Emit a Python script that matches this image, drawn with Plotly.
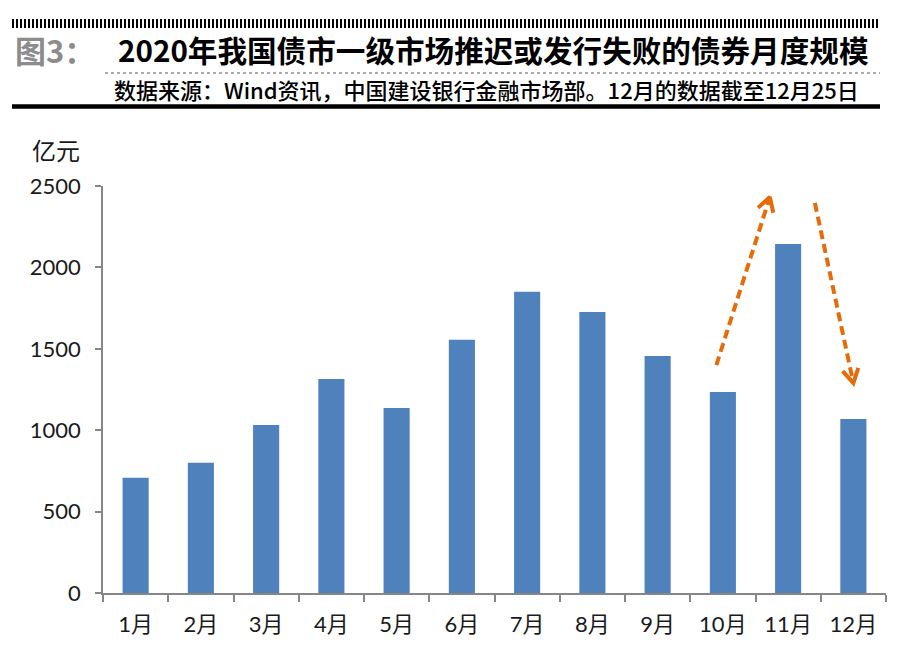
import math
import plotly.graph_objects as go

months = ["1月", "2月", "3月", "4月", "5月", "6月", "7月", "8月", "9月", "10月", "11月", "12月"]
values = [708, 800, 1032, 1315, 1136, 1555, 1850, 1726, 1456, 1235, 2144, 1069]
y_ticks = [0, 500, 1000, 1500, 2000, 2500]

# arrow paths in (category index, value) space: start -> tip
arrow_up_x = [8.90, 9.72]
arrow_up_y = [1400, 2432]
arrow_down_x = [10.41, 11.0]
arrow_down_y = [2396, 1290]

OFF = 8  # page body margin
W, H = 900 - OFF, 654 - OFF
L, R, T, B = 103 - OFF, 22 - OFF, 186 - OFF, 61
PW, PH = W - L - R, H - T - B
YMAX = 2500
NCAT = len(months)


def px(x):
    return (x - OFF - L) / PW


def py(y):
    return (H - B - (y - OFF)) / PH


# data <-> pixel helpers (plot-area pixels) for arrowhead geometry
def d2p(xi, v):
    return (xi + 0.5) * PW / NCAT, v * PH / YMAX


def p2d(X, Y):
    return X * NCAT / PW - 0.5, Y * YMAX / PH


BAR = "#4F81BD"
ORANGE = "#E46C0A"
AXIS = "#868686"
FONT_NUM = "Lato, Noto Sans CJK SC, sans-serif"
FONT_CJK = "Noto Sans CJK SC, sans-serif"

fig = go.Figure()
fig.add_trace(go.Bar(x=months, y=values, marker=dict(color=BAR, line=dict(width=0)),
                     width=0.4, showlegend=False, hoverinfo="x+y"))

for xs, ys in [(arrow_up_x, arrow_up_y), (arrow_down_x, arrow_down_y)]:
    fig.add_trace(go.Scatter(
        x=xs, y=ys, xaxis="x2", yaxis="y", mode="lines",
        line=dict(color=ORANGE, width=4, dash="9px,5px"),
        showlegend=False, hoverinfo="skip", cliponaxis=False))
    # chevron head
    x0, y0 = d2p(xs[0], ys[0])
    x1, y1 = d2p(xs[1], ys[1])
    ang = math.atan2(y1 - y0, x1 - x0)
    hl, ha = 16, math.radians(30)
    pts = []
    for s in (1, -1):
        a = ang + math.pi + s * ha
        pts.append((x1 + hl * math.cos(a), y1 + hl * math.sin(a)))
    hx, hy = [], []
    for P in (pts[0], (x1, y1), pts[1]):
        dx, dy = p2d(*P)
        hx.append(dx)
        hy.append(dy)
    fig.add_trace(go.Scatter(
        x=hx, y=hy, xaxis="x2", yaxis="y", mode="lines",
        line=dict(color=ORANGE, width=4), showlegend=False, hoverinfo="skip", cliponaxis=False))

fig.update_layout(
    width=W, height=H,
    margin=dict(l=L, r=R, t=T, b=B, pad=0),
    paper_bgcolor="white", plot_bgcolor="white",
    bargap=0.6,
    font=dict(family=FONT_NUM, size=22, color="#1a1a1a"),
    xaxis=dict(type="category", showgrid=False, showline=True, linecolor=AXIS, linewidth=1.5,
               ticks="outside", ticklen=7, tickcolor=AXIS, tickwidth=1.5, tickson="boundaries",
               tickfont=dict(family=FONT_NUM, size=22, color="#1a1a1a"), ticklabelstandoff=11,
               zeroline=False),
    xaxis2=dict(overlaying="x", range=[-0.5, 11.5], visible=False, showgrid=False, zeroline=False),
    yaxis=dict(range=[0, YMAX], tickvals=y_ticks, showgrid=False, showline=True, linecolor=AXIS,
               linewidth=1.5, ticks="outside", ticklen=6, tickcolor=AXIS, tickwidth=1.5,
               tickfont=dict(family=FONT_NUM, size=22, color="#1a1a1a"), ticklabelstandoff=10,
               zeroline=False),
)

shapes = [
    # hatched top band
    dict(type="line", xref="paper", yref="paper", x0=px(12), x1=px(880), y0=py(23.5), y1=py(23.5),
         line=dict(color="#000000", width=9, dash="2px,2px")),
    # dotted line under title
    dict(type="line", xref="paper", yref="paper", x0=px(105), x1=px(880), y0=py(73), y1=py(73),
         line=dict(color="#555555", width=1, dash="dot")),
    # thick rule under source
    dict(type="line", xref="paper", yref="paper", x0=px(12), x1=px(880), y0=py(106.5), y1=py(106.5),
         line=dict(color="#000000", width=4.5)),
]
fig.update_layout(shapes=shapes)

annotations = [
    dict(text="<b>图3：</b>", x=px(13), y=py(50), xref="paper", yref="paper", xanchor="left",
         yanchor="middle", showarrow=False, font=dict(family=FONT_CJK, size=31, color="#8C8C8C")),
    dict(text="<b>2020年我国债市一级市场推迟或发行失败的债券月度规模</b>", x=px(116), y=py(50),
         xref="paper", yref="paper", xanchor="left", yanchor="middle", showarrow=False,
         font=dict(family=FONT_CJK, size=29.6, color="#000000")),
    dict(text="数据来源：Wind资讯，中国建设银行金融市场部。12月的数据截至12月25日", x=px(112), y=py(89),
         xref="paper", yref="paper", xanchor="left", yanchor="middle", showarrow=False,
         font=dict(family=FONT_CJK, size=22, color="#000000", weight=500)),
    dict(text="亿元", x=px(30), y=py(150), xref="paper", yref="paper", xanchor="left",
         yanchor="middle", showarrow=False, font=dict(family=FONT_CJK, size=24, color="#1a1a1a")),
]
fig.update_layout(annotations=annotations)

fig.write_html("out.html")
